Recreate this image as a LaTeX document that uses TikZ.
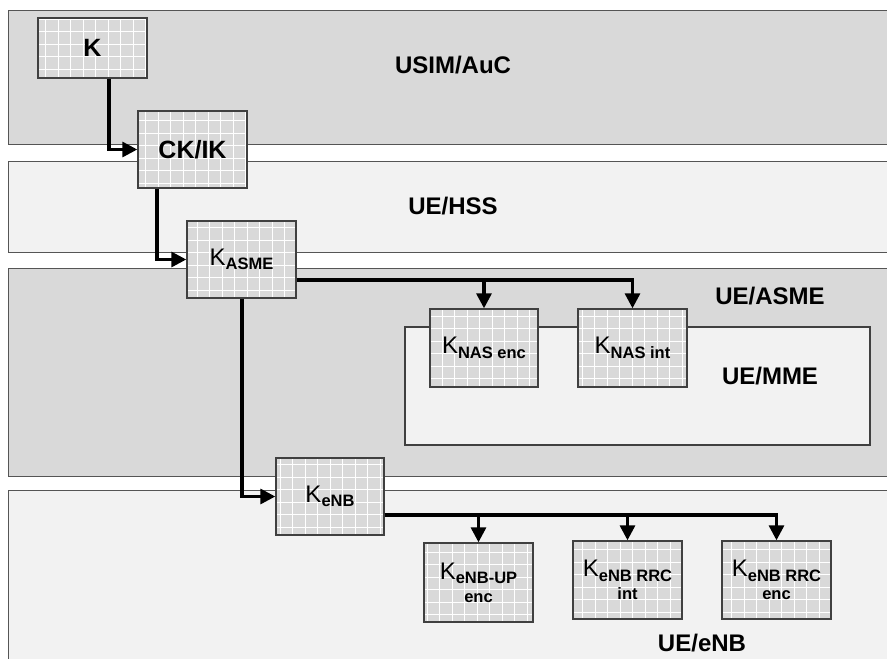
\documentclass[tikz,border=0pt]{standalone}
\usepackage{fontspec}
\setmainfont{Liberation Sans}
\usetikzlibrary{arrows.meta}
\definecolor{banddark}{HTML}{D9D9D9}
\definecolor{bandlight}{HTML}{F2F2F2}
\definecolor{boxfill}{HTML}{D9D9D9}
\definecolor{edgegray}{HTML}{555555}
\definecolor{boxedge}{HTML}{404040}
\newcommand{\Ksb}[1]{K\raisebox{-4.5pt}{\fontsize{16.5}{17}\selectfont\bfseries #1}}
\newcommand{\subline}[1]{{\fontsize{16.5}{17}\selectfont\bfseries #1}}
\begin{document}
\begin{tikzpicture}[x=1pt,y=-1pt,
  bandline/.style={draw=edgegray,line width=1pt},
  keybox/.style={draw=boxedge,line width=1.4pt,fill=boxfill,minimum width=109pt,
    minimum height=78pt,inner sep=0pt,align=center,font=\fontsize{24}{25}\selectfont,
    path picture={\draw[white,line width=1pt,step=12.5pt]
      (path picture bounding box.south west) grid (path picture bounding box.north east);}},
  conn/.style={line width=3.2pt,-{Triangle[length=15pt,width=15pt]}},
  lbl/.style={font=\fontsize{24}{26}\selectfont\bfseries}]
\useasboundingbox[fill=white] (0,0) rectangle (887,659);
% bands
\fill[banddark] (8,10) rectangle (887,144);
\draw[bandline] (887,10) -- (8,10) -- (8,144) -- (887,144);
\fill[bandlight] (8,161) rectangle (887,252);
\draw[bandline] (887,161) -- (8,161) -- (8,252) -- (887,252);
\fill[banddark] (8,268) rectangle (887,476);
\draw[bandline] (887,268) -- (8,268) -- (8,476) -- (887,476);
\fill[bandlight] (8,490) rectangle (887,659);
\draw[bandline] (887,490) -- (8,490) -- (8,659);
% UE/MME inner box
\draw[draw=boxedge,line width=1.2pt,fill=bandlight] (405,327) rectangle (870,445);
% labels
\node[lbl] (lusim) at (453,65) {USIM/AuC};
\node[lbl] (lhss) at (453,206) {UE/HSS};
\node[lbl] (lasme) at (770,296) {UE/ASME};
\node[lbl] (lmme) at (770,376) {UE/MME};
\node[lbl] (lenb) at (702,643) {UE/eNB};
% key boxes
\node[keybox,minimum height=60pt,font=\fontsize{25}{26}\selectfont\bfseries] (k) at (92.5,48) {K};
\node[keybox,minimum height=77pt,font=\fontsize{25}{26}\selectfont\bfseries] (ck) at (192.5,149.5) {CK/IK};
\node[keybox,minimum height=77pt] (kasme) at (241.5,259.5) {\Ksb{ASME}};
\node[keybox,minimum width=108pt] (knasenc) at (484,348) {\Ksb{NAS enc}};
\node[keybox] (knasint) at (632.5,348) {\Ksb{NAS int}};
\node[keybox,minimum width=108pt,minimum height=77pt] (kenb) at (330,496.5) {\Ksb{eNB}};
\node[keybox,minimum height=79pt] (kup) at (478.5,582.5) {\Ksb{eNB-UP}\\[-2pt]\subline{enc}};
\node[keybox] (krrcint) at (627.5,580) {\Ksb{eNB RRC}\\[-2pt]\subline{int}};
\node[keybox] (krrcenc) at (776.5,580) {\Ksb{eNB RRC}\\[-2pt]\subline{enc}};
% connectors
\draw[conn] ([xshift=16.5pt]k.south) |- (ck.west);
\draw[conn] ([xshift=-35.5pt]ck.south) |- (kasme.west);
\draw[conn] ([yshift=-20.5pt]kasme.east) -| (knasenc.north);
\draw[conn] ([yshift=-20.5pt]kasme.east) -| (knasint.north);
\draw[conn] ([xshift=0.5pt]kasme.south) |- (kenb.west);
\draw[conn] ([yshift=-18.5pt]kenb.east) -| (kup.north);
\draw[conn] ([yshift=-18.5pt]kenb.east) -| (krrcint.north);
\draw[conn] ([yshift=-18.5pt]kenb.east) -| (krrcenc.north);
\end{tikzpicture}
\end{document}
